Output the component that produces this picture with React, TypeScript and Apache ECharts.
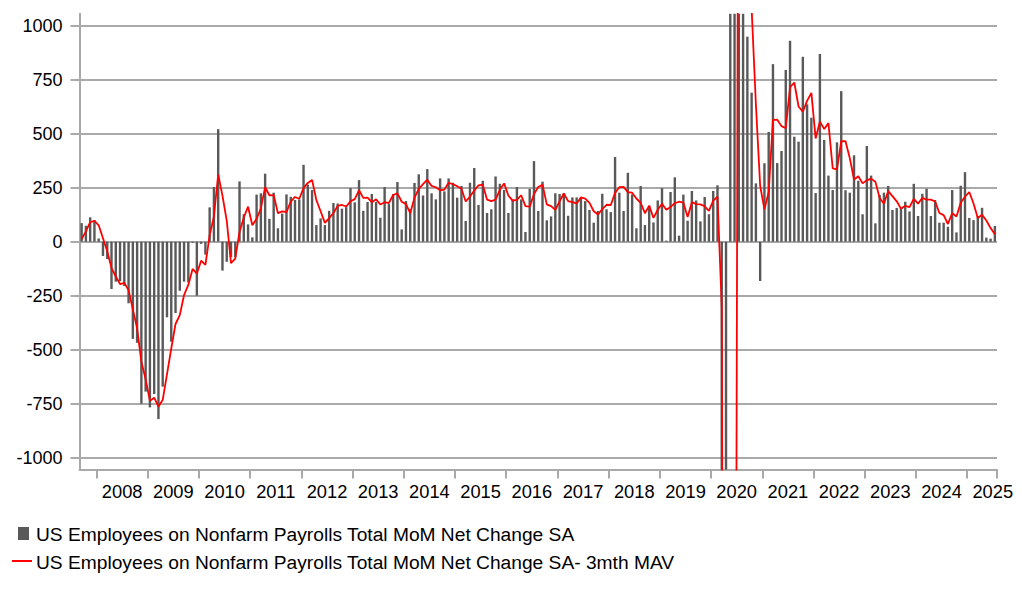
import React, { useEffect, useRef } from "react";
import * as echarts from "echarts";

const START_YEAR = 2007;
const START_MONTH = 9;

// Monthly net change (thousands), Sep 2007 - Jul 2025
const payrolls: number[] = [
  86, 74, 113, 100,
  15, -66, -80, -219, -185, -183, -205, -285, -450, -468, -750, -694,
  -767, -705, -821, -671, -350, -463, -330, -227, -185, -188, -5, -250,
  -10, -60, 159, 253, 521, -134, -93, -71, -71, 279, 127, 80,
  20, 218, 224, 315, 106, 227, 62, 130, 219, 208, 193, 196,
  356, 264, 239, 77, 108, 77, 143, 179, 177, 153, 160, 248,
  182, 285, 143, 184, 221, 184, 111, 253, 174, 221, 276, 57,
  188, 151, 272, 312, 214, 336, 224, 196, 293, 233, 293, 273,
  204, 258, 96, 273, 341, 170, 282, 133, 150, 302, 268, 240,
  133, 196, 253, 196, 45, 245, 373, 142, 278, 99, 117, 224,
  221, 224, 120, 205, 205, 205, 188, 147, 88, 142, 222, 150,
  137, 392, 227, 142, 319, 219, 62, 258, 77, 165, 89, 191,
  248, 5, 230, 298, 28, 218, 97, 235, 191, 94, 207, 127,
  235, 261, -1400, -20500, 2800, 4500, 1700, 1600, 949, 690, 270, -182,
  363, 508, 822, 364, 420, 795, 930, 486, 463, 856, 636, 574,
  225, 869, 471, 306, 239, 460, 697, 238, 227, 400, 282, 127,
  443, 306, 85, 216, 227, 258, 147, 156, 156, 185, 140, 268,
  119, 222, 245, 119, 193, 88, 88, 69, 239, 43, 259, 322,
  110, 100, 119, 157, 19, 14, 73,
];

// 3-month moving average, Sep 2007 - Jul 2025
const mav3: number[] = [
  12, 48, 91, 96,
  76, 16, -44, -122, -161, -196, -191, -224, -313, -401, -556, -637,
  -737, -722, -764, -732, -614, -495, -381, -340, -247, -200, -126, -148,
  -88, -107, 30, 117, 311, 213, 98, -99, -78, 46, 112, 162,
  76, 106, 154, 252, 215, 216, 132, 140, 137, 186, 207, 199,
  248, 272, 286, 193, 141, 87, 109, 133, 166, 170, 163, 187,
  197, 238, 203, 204, 183, 196, 172, 183, 179, 216, 224, 185,
  174, 132, 204, 245, 266, 287, 258, 252, 238, 241, 273, 266,
  257, 245, 186, 209, 237, 261, 264, 195, 188, 195, 240, 270,
  214, 190, 194, 215, 165, 162, 221, 253, 264, 173, 165, 147,
  187, 223, 188, 183, 177, 205, 199, 180, 141, 126, 151, 171,
  170, 226, 252, 254, 229, 227, 200, 180, 132, 167, 110, 148,
  176, 148, 161, 178, 185, 181, 114, 183, 174, 173, 164, 143,
  190, 208, -301, -7213, -6367, -4400, 3000, 2600, 1416, 1080, 636, 259,
  150, 230, 564, 565, 535, 526, 715, 737, 626, 602, 652, 689,
  478, 556, 522, 549, 339, 335, 465, 465, 387, 288, 303, 270,
  284, 292, 278, 202, 176, 234, 211, 187, 153, 166, 160, 198,
  176, 203, 195, 195, 186, 133, 123, 82, 132, 117, 180, 208,
  230, 177, 110, 125, 98, 63, 35,
];

const categories: string[] = payrolls.map((_, i) => {
  const m = START_MONTH - 1 + i;
  const y = START_YEAR + Math.floor(m / 12);
  const mm = (m % 12) + 1;
  return `${y}-${String(mm).padStart(2, "0")}`;
});

const barName = "US Employees on Nonfarm Payrolls Total MoM Net Change SA";
const lineName = "US Employees on Nonfarm Payrolls Total MoM Net Change SA- 3mth MAV";

const FONT = "'Liberation Sans', Arial, Helvetica, sans-serif";
const GRID_COLOR = "#a9a9a9";
const BAR_COLOR = "#595959";
const LINE_COLOR = "#ff0000";

export default function App() {
  const ref = useRef<HTMLDivElement>(null);
  useEffect(() => {
    if (!ref.current) return;
    const chart = echarts.init(ref.current, undefined, { renderer: "svg" });
    chart.setOption({
      animation: false,
      backgroundColor: "#ffffff",
      grid: [
        { left: 79.5, right: 25, top: 13.8, bottom: 128.4 },
        { left: 79.5, right: 25, top: 25.7, bottom: 140.3 },
      ],
      xAxis: [
        {
          type: "category",
          gridIndex: 0,
          data: categories,
          boundaryGap: true,
          axisLine: { show: true, onZero: false, lineStyle: { color: GRID_COLOR, width: 2 } },
          axisTick: {
            show: true,
            interval: (i: number) => categories[i].endsWith("-01"),
            length: 9,
            lineStyle: { color: GRID_COLOR, width: 2 },
          },
          axisLabel: {
            interval: (i: number) => categories[i].endsWith("-07"),
            formatter: (v: string) => v.slice(0, 4),
            color: "#000000",
            fontSize: 18.3,
            fontFamily: FONT,
            margin: 13,
            padding: [0, 4.3, 0, 0],
          },
          splitLine: { show: false },
        },
        { type: "value", gridIndex: 1, show: false, min: 0, max: 1 },
      ],
      yAxis: [
        {
          type: "value",
          gridIndex: 0,
          min: -1055,
          max: 1055,
          axisLine: { show: true, lineStyle: { color: GRID_COLOR, width: 2 } },
          axisTick: { show: false },
          axisLabel: { show: false },
          splitLine: { show: false },
        },
        {
          type: "value",
          gridIndex: 1,
          min: -1000,
          max: 1000,
          interval: 250,
          axisLine: { show: false },
          axisTick: { show: true, length: 9, lineStyle: { color: GRID_COLOR, width: 2 } },
          axisLabel: {
            color: "#000000",
            fontSize: 18,
            fontFamily: FONT,
            margin: 17,
            formatter: (v: number) => String(v),
          },
          splitLine: { show: true, lineStyle: { color: GRID_COLOR, width: 2 } },
        },
      ],
      series: [
        {
          name: barName,
          type: "bar",
          xAxisIndex: 0,
          yAxisIndex: 0,
          data: payrolls,
          barWidth: 2.4,
          itemStyle: { color: BAR_COLOR },
          z: 3,
        },
        {
          name: lineName,
          type: "line",
          xAxisIndex: 0,
          yAxisIndex: 0,
          data: mav3,
          symbol: "none",
          lineStyle: { color: LINE_COLOR, width: 1.8 },
          z: 4,
        },
      ],
      graphic: [
        { type: "rect", shape: { x: 18, y: 527, width: 11, height: 13 }, style: { fill: BAR_COLOR } },
        {
          type: "text",
          x: 36,
          y: 534,
          style: { text: barName, fill: "#000000", font: `19.2px ${FONT}`, verticalAlign: "middle" },
        },
        {
          type: "line",
          shape: { x1: 12, y1: 561, x2: 32, y2: 561 },
          style: { stroke: LINE_COLOR, lineWidth: 2 },
        },
        {
          type: "text",
          x: 36,
          y: 562,
          style: { text: lineName, fill: "#000000", font: `19.2px ${FONT}`, verticalAlign: "middle" },
        },
      ],
    });
    return () => chart.dispose();
  }, []);
  return (
    <div
      ref={ref}
      style={{ position: "absolute", left: 0, top: 0, width: 1022, height: 598, background: "#fff" }}
    />
  );
}
